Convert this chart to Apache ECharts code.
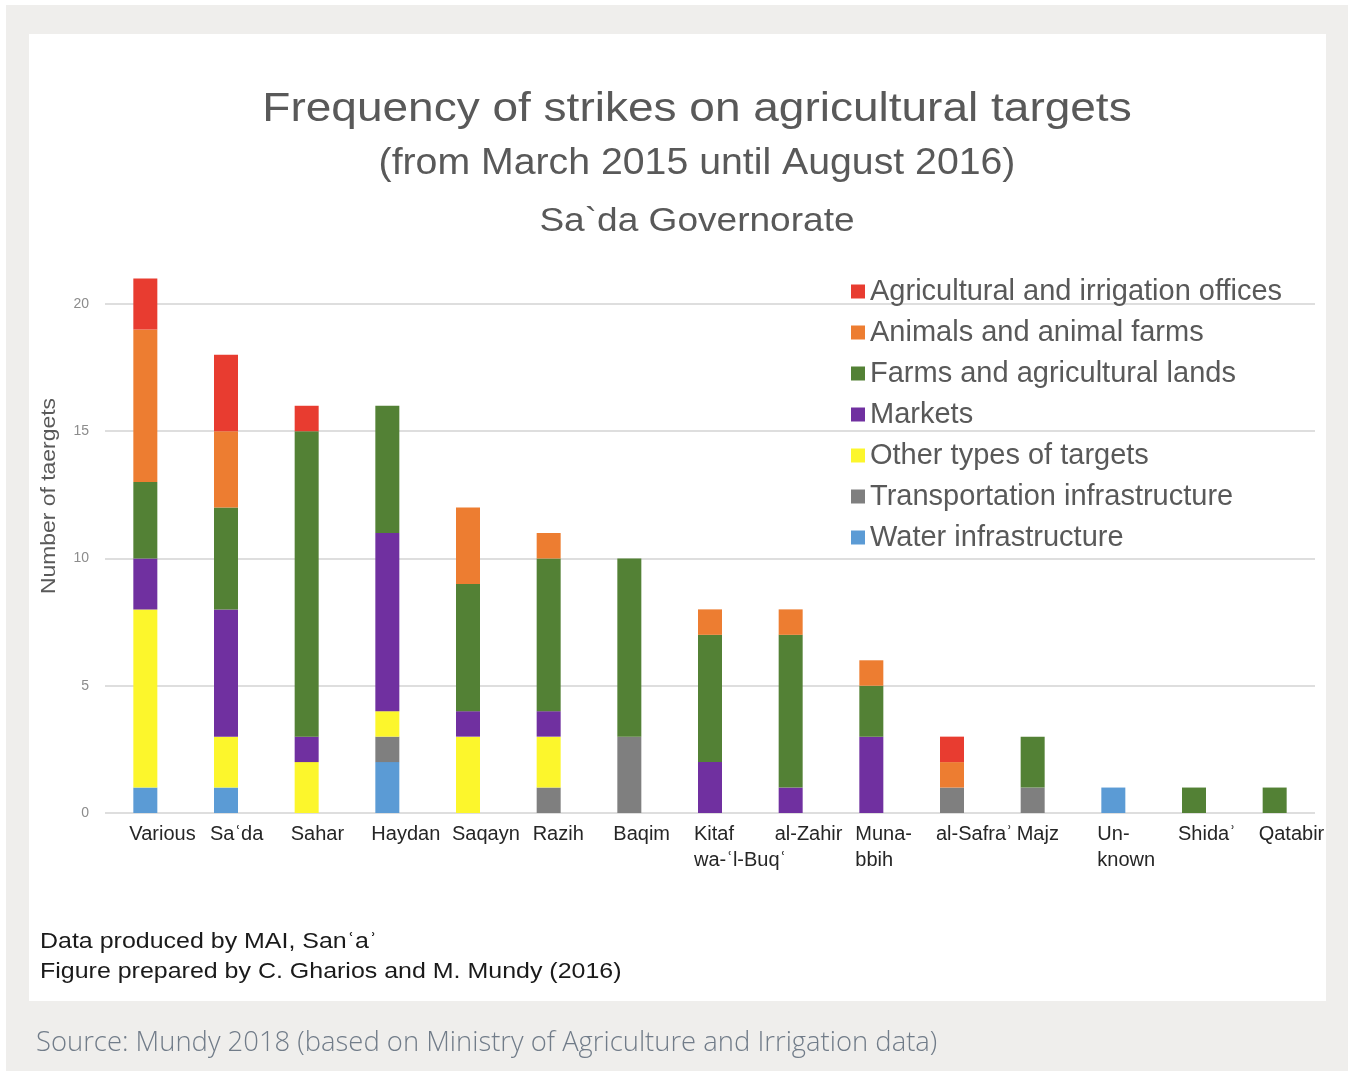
<!DOCTYPE html>
<html>
<head>
<meta charset="utf-8">
<script src="https://cdn.jsdelivr.net/npm/echarts@6/dist/echarts.min.js"></script>
<style>
html,body{margin:0;padding:0;background:#ffffff;}
#chart{width:1348px;height:1071px;}
</style>
</head>
<body>
<div id="chart"></div>
<script>
// ---- data ----
const categories = ['Various', 'Saʿda', 'Sahar', 'Haydan', 'Saqayn', 'Razih', 'Baqim', 'Kitaf\nwa-ʿl-Buqʿ', 'al-Zahir', 'Muna-\nbbih', 'al-Safraʾ', 'Majz', 'Un-\nknown', 'Shidaʾ', 'Qatabir'];
const seriesNames = ['Water infrastructure', 'Transportation infrastructure', 'Other types of targets', 'Markets', 'Farms and agricultural lands', 'Animals and animal farms', 'Agricultural and irrigation offices'];
const water     = [1, 1, 0, 2, 0, 0, 0, 0, 0, 0, 0, 0, 1, 0, 0];
const transport = [0, 0, 0, 1, 0, 1, 3, 0, 0, 0, 1, 1, 0, 0, 0];
const other     = [7, 2, 2, 1, 3, 2, 0, 0, 0, 0, 0, 0, 0, 0, 0];
const markets   = [2, 5, 1, 7, 1, 1, 0, 2, 1, 3, 0, 0, 0, 0, 0];
const farms     = [3, 4, 12, 5, 5, 6, 7, 5, 6, 2, 0, 2, 0, 1, 1];
const animals   = [6, 3, 0, 0, 3, 1, 0, 1, 1, 1, 1, 0, 0, 0, 0];
const offices   = [2, 3, 1, 0, 0, 0, 0, 0, 0, 0, 1, 0, 0, 0, 0];
const yTicks = [0, 5, 10, 15, 20];
const titleText = 'Frequency of strikes on agricultural targets';
const subtitleText = '(from March 2015 until August 2016)';
const regionText = 'Sa`da Governorate';
const yAxisName = 'Number of taergets';
const footer1 = 'Data produced by MAI, Sanʿaʾ';
const footer2 = 'Figure prepared by C. Gharios and M. Mundy (2016)';
const sourceText = 'Source: Mundy 2018 (based on Ministry of Agriculture and Irrigation data)';

// ---- styles ----
const colors = ['#5b9bd5', '#7f7f7f', '#fcf62c', '#7030a0', '#538135', '#ed7d31', '#e83c30'];
const seriesData = [water, transport, other, markets, farms, animals, offices];
const FONT = '"Liberation Sans", Arial, sans-serif';

const chart = echarts.init(document.getElementById('chart'), null, {renderer: 'canvas'});

const series = seriesNames.map((name, i) => ({
  name: name,
  type: 'bar',
  stack: 'total',
  barWidth: 24,
  itemStyle: {color: colors[i]},
  emphasis: {disabled: true},
  data: seriesData[i]
}));

const option = {
  animation: false,
  backgroundColor: '#efeeec',
  textStyle: {fontFamily: FONT},
  graphic: [
    {type: 'rect', z: -100, shape: {x: 0, y: 0, width: 1348, height: 5}, style: {fill: '#ffffff'}},
    {type: 'rect', z: -100, shape: {x: 0, y: 0, width: 6, height: 1071}, style: {fill: '#ffffff'}},
    {type: 'rect', z: -100, shape: {x: 29, y: 34, width: 1297, height: 967}, style: {fill: '#ffffff'}},
    {type: 'rect', z: 100, shape: {x: 1326, y: 5, width: 22, height: 1066}, style: {fill: '#efeeec'}},
    {type: 'text', x: 697, y: 110, scaleX: 1.15, style: {text: titleText, font: '40px ' + FONT, fill: '#595959', textAlign: 'center', textVerticalAlign: 'middle'}},
    {type: 'text', x: 697, y: 164, scaleX: 1.09, style: {text: subtitleText, font: '36px ' + FONT, fill: '#595959', textAlign: 'center', textVerticalAlign: 'middle'}},
    {type: 'text', x: 697, y: 222, scaleX: 1.09, style: {text: regionText, font: '34px ' + FONT, fill: '#595959', textAlign: 'center', textVerticalAlign: 'middle'}},
    {type: 'text', x: 49, y: 496, rotation: Math.PI / 2, scaleX: 1.09, style: {text: yAxisName, font: '21px ' + FONT, fill: '#595959', textAlign: 'center', textVerticalAlign: 'middle'}},
    {type: 'text', x: 40, y: 942, scaleX: 1.135, style: {text: footer1, font: '22px ' + FONT, fill: '#1a1a1a', textAlign: 'left', textVerticalAlign: 'middle'}},
    {type: 'text', x: 40, y: 972, scaleX: 1.135, style: {text: footer2, font: '22px ' + FONT, fill: '#1a1a1a', textAlign: 'left', textVerticalAlign: 'middle'}},
    {type: 'text', x: 36, y: 1043, scaleX: 1.015, style: {text: sourceText, font: '300 27px "Open Sans", sans-serif', fill: '#717c89', textAlign: 'left', textVerticalAlign: 'middle'}}
  ],
  legend: {
    orient: 'vertical',
    left: 846,
    top: 266,
    itemWidth: 14,
    itemHeight: 14,
    itemGap: 0,
    icon: 'rect',
    selectedMode: false,
    data: seriesNames.slice().reverse(),
    textStyle: {fontFamily: FONT, fontSize: 29, color: '#595959', lineHeight: 41}
  },
  grid: {left: 105, right: 33, top: 278.5, bottom: 258, containLabel: false},
  xAxis: {
    type: 'category',
    data: categories,
    axisLine: {show: false},
    axisTick: {show: false},
    axisLabel: {
      interval: 0,
      margin: 8,
      formatter: function (v) {
        return v.split('\n').map(s => '{l|' + s + '}').join('\n');
      },
      rich: {
        l: {width: 32, align: 'left', fontSize: 20, lineHeight: 26, color: '#262626', fontFamily: FONT}
      }
    }
  },
  yAxis: {
    type: 'value',
    min: yTicks[0],
    max: 21,
    interval: yTicks[1] - yTicks[0],
    axisLine: {show: false},
    axisTick: {show: false},
    axisLabel: {margin: 16, fontSize: 14, color: '#8c8c8c', fontFamily: FONT, showMaxLabel: false},
    splitLine: {show: true, showMaxLine: false, lineStyle: {color: '#dedede', width: 2}}
  },
  series: series
};

chart.setOption(option);
</script>
</body>
</html>
